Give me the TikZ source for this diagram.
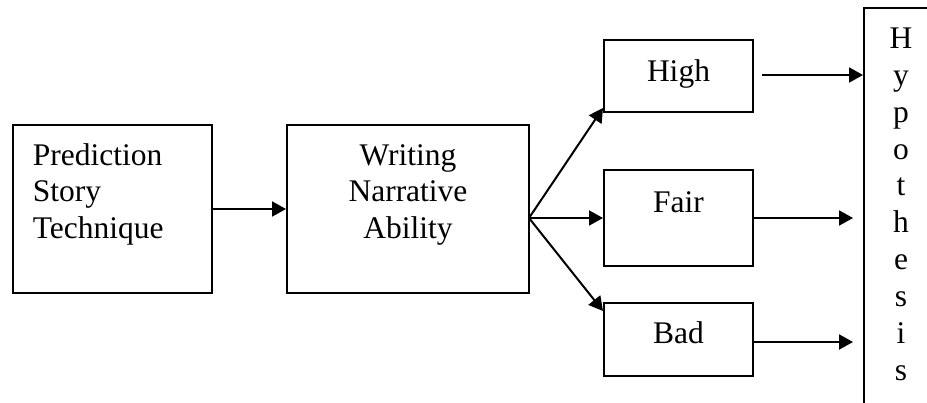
\documentclass[tikz,border=0pt]{standalone}
\usepackage{fontspec}
\setmainfont{Liberation Serif}
\usetikzlibrary{arrows.meta,calc}
\begin{document}
\begin{tikzpicture}[x=1pt,y=-1pt,
  box/.style={draw,line width=2pt,inner sep=0pt},
  txt/.style={inner sep=0pt,font=\fontsize{31.5}{36.5}\selectfont},
  arr/.style={line width=2pt,-{Triangle[length=14pt,width=15pt]}}]
\useasboundingbox (0,0) rectangle (927,402);
\clip (0,0) rectangle (927,402);
% boxes
\node[box,minimum width=199.6pt,minimum height=168pt] (b1) at (112.5,209) {};
\node[box,minimum width=242pt,minimum height=168pt] (b2) at (408,209) {};
\node[box,minimum width=149pt,minimum height=72pt] (hi) at (678.5,76) {};
\node[box,minimum width=149pt,minimum height=96pt] (fa) at (678.5,218) {};
\node[box,minimum width=149pt,minimum height=73pt] (ba) at (678.5,339.5) {};
\node[box,minimum width=80pt,minimum height=420pt,anchor=north west] (hy) at (863,7) {};
% texts
\node[txt,anchor=base west] (t1) at (32.7,165) {Prediction};
\node[txt,anchor=base west] (t2) at (32.7,201.5) {Story};
\node[txt,anchor=base west] (t3) at (32.7,238) {Technique};
\node[txt,anchor=base] (w1) at (408,165) {Writing};
\node[txt,anchor=base] (w2) at (408,201.5) {Narrative};
\node[txt,anchor=base] (w3) at (408,238) {Ability};
\node[txt,anchor=base] (th) at (678.5,81) {High};
\node[txt,anchor=base] (tf) at (678.5,212) {Fair};
\node[txt,anchor=base] (tb) at (678.5,343) {Bad};
\foreach \l [count=\i] in {H,y,p,o,t,h,e,s,i,s}
  \node[txt,anchor=base] (hl\i) at (901,{48.3+36.9*(\i-1)}) {\l};
% connector points
\coordinate (fan) at (529,218);
\coordinate (hiS) at (762,75);
\coordinate (hyA) at (863,75);
\coordinate (hyB) at (853,218);
\coordinate (hyC) at (853,342);
% arrows
\draw[arr] (b1.east) -- (b2.west);
\draw[arr] (fan) -- ($(hi.south west)+(0,-5)$);
\draw[arr] (fan) -- (fa.west);
\draw[arr] (fan) -- ($(ba.north west)+(0,9)$);
\draw[arr] (hiS) -- (hyA);
\draw[arr] (fa.east) -- (hyB);
\draw[arr] (ba.east |- hyC) -- (hyC);
\end{tikzpicture}
\end{document}
